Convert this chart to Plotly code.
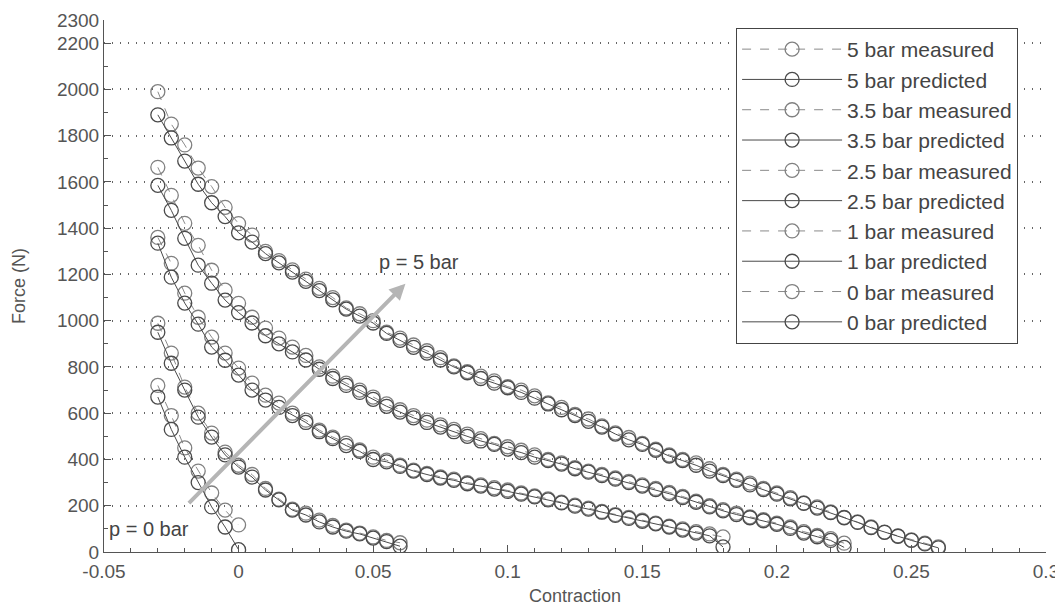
import plotly.graph_objects as go

# ---------------- data ----------------
x_5bar = [-0.03, -0.025, -0.02, -0.015, -0.01, -0.005, 0.0, 0.005, 0.01, 0.015,
          0.02, 0.025, 0.03, 0.035, 0.04, 0.045, 0.05, 0.055, 0.06, 0.065,
          0.07, 0.075, 0.08, 0.085, 0.09, 0.095, 0.1, 0.105, 0.11, 0.115,
          0.12, 0.125, 0.13, 0.135, 0.14, 0.145, 0.15, 0.155, 0.16, 0.165,
          0.17, 0.175, 0.18, 0.185, 0.19, 0.195, 0.2, 0.205, 0.21, 0.215,
          0.22, 0.225, 0.23, 0.235, 0.24, 0.245, 0.25, 0.255, 0.26]
y_5bar_meas = [1990, 1850, 1760, 1660, 1580, 1490, 1420, 1370, 1300, 1260,
               1220, 1180, 1140, 1100, 1055, 1030, 1000, 950, 925, 895,
               870, 840, 805, 780, 760, 740, 715, 700, 675, 645,
               625, 595, 575, 545, 515, 495, 470, 445, 420, 400,
               385, 360, 335, 315, 298, 275, 255, 235, 212, 195,
               173, 150, 130, 108, 86, 70, 52, 38, 22]
y_5bar_pred = [1890, 1790, 1690, 1590, 1510, 1450, 1380, 1340, 1290, 1250,
               1210, 1170, 1130, 1090, 1050, 1020, 990, 945, 915, 885,
               860, 830, 800, 775, 750, 730, 710, 690, 665, 640,
               615, 590, 565, 540, 510, 485, 465, 440, 415, 395,
               375, 350, 330, 310, 290, 270, 250, 230, 210, 190,
               170, 148, 128, 105, 85, 68, 50, 35, 18]

x_35bar = [-0.03, -0.025, -0.02, -0.015, -0.01, -0.005, 0.0, 0.005, 0.01, 0.015,
           0.02, 0.025, 0.03, 0.035, 0.04, 0.045, 0.05, 0.055, 0.06, 0.065,
           0.07, 0.075, 0.08, 0.085, 0.09, 0.095, 0.1, 0.105, 0.11, 0.115,
           0.12, 0.125, 0.13, 0.135, 0.14, 0.145, 0.15, 0.155, 0.16, 0.165,
           0.17, 0.175, 0.18, 0.185, 0.19, 0.195, 0.2, 0.205, 0.21, 0.215,
           0.22, 0.225]
y_35bar_meas = [1663, 1542, 1421, 1326, 1218, 1132, 1075, 1015, 968, 925,
                886, 850, 800, 760, 730, 700, 670, 640, 615, 590,
                570, 550, 530, 510, 490, 470, 455, 440, 420, 400,
                385, 365, 350, 335, 320, 305, 290, 275, 258, 240,
                220, 200, 183, 168, 152, 140, 125, 108, 88, 72,
                58, 38]
y_35bar_pred = [1585, 1477, 1356, 1240, 1162, 1089, 1035, 990, 935, 900,
                865, 830, 790, 750, 720, 690, 660, 630, 605, 580,
                560, 540, 520, 500, 480, 465, 445, 430, 410, 395,
                380, 360, 345, 330, 315, 300, 285, 270, 252, 235,
                215, 195, 178, 162, 148, 135, 120, 102, 82, 66,
                50, 20]

x_25bar = [-0.03, -0.025, -0.02, -0.015, -0.01, -0.005, 0.0, 0.005, 0.01, 0.015,
           0.02, 0.025, 0.03, 0.035, 0.04, 0.045, 0.05, 0.055, 0.06, 0.065,
           0.07, 0.075, 0.08, 0.085, 0.09, 0.095, 0.1, 0.105, 0.11, 0.115,
           0.12, 0.125, 0.13, 0.135, 0.14, 0.145, 0.15, 0.155, 0.16, 0.165,
           0.17, 0.175, 0.18]
y_25bar_meas = [1360, 1248, 1119, 1015, 929, 860, 795, 730, 678, 644,
                600, 570, 527, 497, 471, 441, 410, 397, 375, 354,
                340, 325, 315, 300, 290, 278, 268, 255, 242, 230,
                215, 203, 190, 175, 162, 150, 138, 125, 112, 100,
                88, 78, 65]
y_25bar_pred = [1335, 1188, 1076, 985, 886, 829, 765, 700, 657, 625,
                590, 560, 520, 490, 460, 435, 400, 390, 370, 350,
                335, 320, 310, 295, 285, 272, 262, 250, 238, 225,
                212, 198, 185, 172, 158, 145, 133, 122, 108, 95,
                82, 70, 22]

x_1bar = [-0.03, -0.025, -0.02, -0.015, -0.01, -0.005, 0.0, 0.005, 0.01, 0.015,
          0.02, 0.025, 0.03, 0.035, 0.04, 0.045, 0.05, 0.055, 0.06]
y_1bar_meas = [989, 860, 713, 600, 514, 432, 375, 335, 275, 228,
               185, 168, 138, 115, 95, 82, 65, 50, 40]
y_1bar_pred = [950, 816, 700, 583, 497, 420, 367, 324, 268, 225,
               181, 160, 130, 108, 90, 78, 60, 45, 25]

x_0bar = [-0.03, -0.025, -0.02, -0.015, -0.01, -0.005, 0.0]
y_0bar_meas = [720, 590, 450, 350, 255, 181, 117]
y_0bar_pred = [670, 530, 410, 300, 195, 108, 10]

series = [
    ("5 bar measured", x_5bar, y_5bar_meas, "meas"),
    ("5 bar predicted", x_5bar, y_5bar_pred, "pred"),
    ("3.5 bar measured", x_35bar, y_35bar_meas, "meas"),
    ("3.5 bar predicted", x_35bar, y_35bar_pred, "pred"),
    ("2.5 bar measured", x_25bar, y_25bar_meas, "meas"),
    ("2.5 bar predicted", x_25bar, y_25bar_pred, "pred"),
    ("1 bar measured", x_1bar, y_1bar_meas, "meas"),
    ("1 bar predicted", x_1bar, y_1bar_pred, "pred"),
    ("0 bar measured", x_0bar, y_0bar_meas, "meas"),
    ("0 bar predicted", x_0bar, y_0bar_pred, "pred"),
]

x_tickvals = [-0.05, 0, 0.05, 0.1, 0.15, 0.2, 0.25, 0.3]
x_ticktext = ["-0.05", "0", "0.05", "0.1", "0.15", "0.2", "0.25", "0.3"]
y_tickvals = [0, 200, 400, 600, 800, 1000, 1200, 1400, 1600, 1800, 2000, 2200, 2300]
y_ticktext = [str(v) for v in y_tickvals]

# ---------------- figure ----------------
FONT = "Liberation Sans, Arial, sans-serif"
styles = {
    "meas": dict(line=dict(color="#8a8a8a", width=1, dash="dash"),
                 marker=dict(symbol="circle-open", size=14, color="#808080",
                             line=dict(width=1.3, color="#808080"))),
    "pred": dict(line=dict(color="#4a4a4a", width=1),
                 marker=dict(symbol="circle-open", size=14, color="#4a4a4a",
                             line=dict(width=1.3, color="#4a4a4a"))),
}

fig = go.Figure()
for i, (name, xs, ys, kind) in enumerate(series):
    fig.add_trace(go.Scatter(x=xs, y=ys, mode="lines+markers", name=name,
                             legendgroup=f"g{i}", **styles[kind]))

# page body has an 8px default margin: the figure is offset by 8px
fig.update_layout(
    width=1055, height=598,
    paper_bgcolor="white", plot_bgcolor="white",
    margin=dict(l=96, r=17, t=12, b=54),
    font=dict(family=FONT, size=18, color="#555"),
    showlegend=True,
    legend=dict(x=0.671, y=0.985, xanchor="left", yanchor="top",
                bgcolor="white", bordercolor="#444", borderwidth=1,
                font=dict(family=FONT, size=21, color="#444"),
                tracegroupgap=0, itemwidth=100),
    xaxis=dict(range=[-0.05, 0.3], tickvals=x_tickvals, ticktext=x_ticktext,
               automargin=False, ticklabeloverflow="allow",
               showgrid=False, zeroline=False, showline=True, linecolor="#555",
               linewidth=1, ticks="inside", ticklen=7, tickcolor="#555",
               ticklabelstandoff=2,
               minor=dict(dtick=0.01, tick0=0, ticks="inside", ticklen=4,
                          tickcolor="#555", showgrid=False),
               title=dict(text="Contraction", standoff=9,
                          font=dict(size=18, color="#555")),
               tickfont=dict(size=19, color="#555")),
    yaxis=dict(range=[0, 2300], tickvals=y_tickvals, ticktext=y_ticktext,
               automargin=False, ticklabeloverflow="allow",
               showgrid=True, gridcolor="#666", griddash="1px,7px", gridwidth=1.5,
               zeroline=False, showline=True, linecolor="#555", linewidth=1,
               ticks="inside", ticklen=7, tickcolor="#555",
               minor=dict(dtick=100, tick0=0, ticks="inside", ticklen=4,
                          tickcolor="#555", showgrid=False),
               title=dict(text="Force (N)", standoff=26,
                          font=dict(size=18, color="#555")),
               tickfont=dict(size=19, color="#555")),
    annotations=[
        dict(x=0.062, y=1160, ax=-0.019, ay=205, xref="x", yref="y",
             axref="x", ayref="y", showarrow=True, arrowhead=2,
             arrowsize=0.8, arrowwidth=4, arrowcolor="#b5b5b5", text=""),
        dict(x=0.0515, y=1255, xref="x", yref="y", text="p = 5 bar",
             showarrow=False, xanchor="left",
             font=dict(family=FONT, size=20, color="#444")),
        dict(x=-0.049, y=100, xref="x", yref="y", text="p = 0 bar",
             showarrow=False, xanchor="left",
             font=dict(family=FONT, size=20, color="#444")),
    ],
)

fig.write_html("out.html")
